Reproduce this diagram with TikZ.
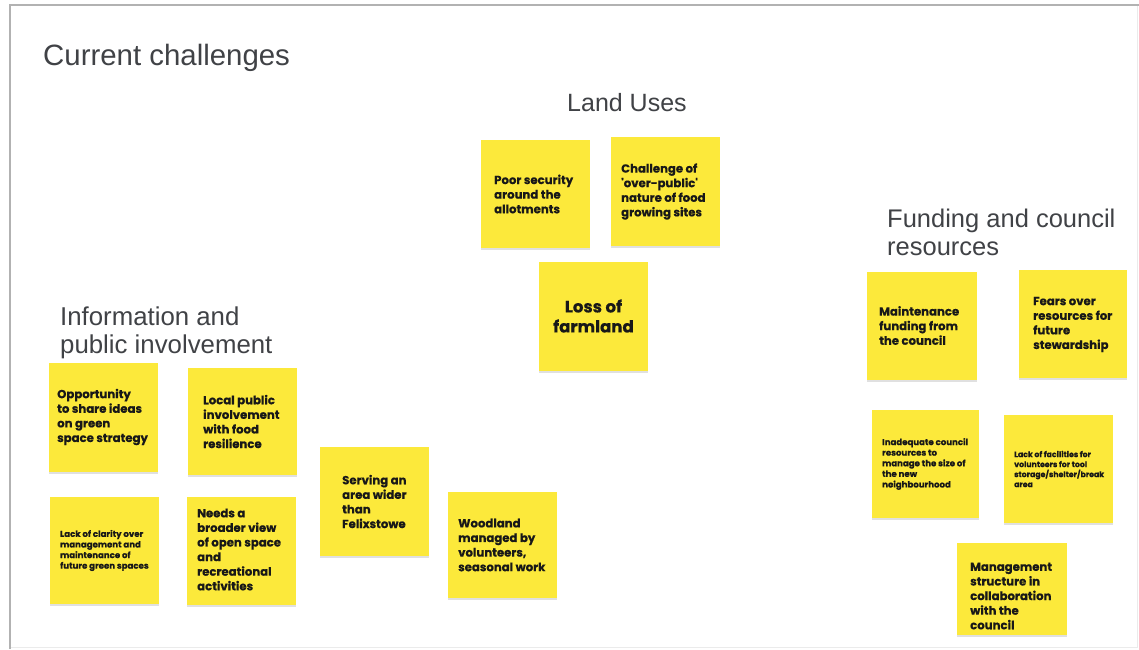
\documentclass[tikz,border=0pt]{standalone}
\usepackage{fontspec}
\setmainfont{Liberation Sans}
\newfontfamily\notefont{Poppins}[BoldFeatures={FakeBold=0.5}]
\usetikzlibrary{shadows}
\definecolor{stickyY}{RGB}{252,233,59}
\definecolor{headgray}{RGB}{64,66,70}
\definecolor{notetext}{RGB}{24,24,24}
\begin{document}
\begin{tikzpicture}[x=1pt,y=-1pt,
  sticky/.style={fill=stickyY, draw=none, inner sep=0pt, anchor=north west,
    drop shadow={shadow xshift=0pt, shadow yshift=-1.5pt, fill=black, opacity=0.12}},
  head/.style={text=headgray, inner sep=0pt, align=left},
  notetxt/.style={text=notetext, inner sep=0pt, align=left, anchor=west},
  nmid/.style={notetxt, font=\notefont\bfseries\fontsize{11.7}{14.6}\selectfont},
  nsmall/.style={notetxt, font=\notefont\bfseries\fontsize{8.6}{10.6}\selectfont},
  nbig/.style={notetxt, anchor=center, align=center, font=\notefont\bfseries\fontsize{16.6}{20}\selectfont}]
\useasboundingbox (0,0) rectangle (1139,649);
\fill[white] (0,0) rectangle (1139,649);
% slide frame
\draw[black!8, line width=0.8pt] (1137,5) -- (1137,647) -- (10,647);
\draw[black!30, line width=1.2pt] (10,649) -- (10,5) -- (1139,5);

% headings (base anchor = baseline of the last line)
\node[head, anchor=base west, font=\fontsize{29.4}{34}\selectfont] (title) at (43,65) {Current challenges};
\node[head, anchor=base west, font=\fontsize{25}{28}\selectfont] (hland) at (567,111) {Land Uses};
\node[head, anchor=base west, font=\fontsize{25.5}{28}\selectfont] (hfund) at (887,255) {Funding and council\\resources};
\node[head, anchor=base west, font=\fontsize{25.8}{28}\selectfont] (hinfo) at (60,353) {Information and\\public involvement};

% Land uses
\node[sticky, minimum width=109, minimum height=108] (s1) at (481,140) {};
\node[sticky, minimum width=109, minimum height=109] (s2) at (611,137) {};
\node[sticky, minimum width=109, minimum height=109] (s3) at (539,262) {};
\node[nmid] (t1) at (494,194) {Poor security\\around the\\allotments};
\node[nmid] (t2) at (621,191.5) {Challenge of\\'over-public'\\nature of food\\growing sites};
\node[nbig] (t3) at (593.5,316) {Loss of\\farmland};

% Information and public involvement
\node[sticky, minimum width=109, minimum height=109] (s4) at (49,363) {};
\node[sticky, minimum width=109, minimum height=107] (s5) at (188,368) {};
\node[sticky, minimum width=109, minimum height=107] (s6) at (50,497) {};
\node[sticky, minimum width=109, minimum height=108] (s7) at (187,497) {};
\node[sticky, minimum width=109, minimum height=109] (s8) at (320,447) {};
\node[sticky, minimum width=109, minimum height=106] (s9) at (448,492) {};
\node[nmid] (t4) at (57,417) {Opportunity\\to share ideas\\on green\\space strategy};
\node[nmid] (t5) at (203,421.5) {Local public\\involvement\\with food\\resilience};
\node[nsmall] (t6) at (60,550.5) {Lack of clarity over\\management and\\maintenance of\\future green spaces};
\node[nmid] (t7) at (197,549.5) {Needs a\\broader view\\of open space\\and\\recreational\\activities};
\node[nmid] (t8) at (342,501.5) {Serving an\\area wider\\than\\Felixstowe};
\node[nmid] (t9) at (458,545) {Woodland\\managed by\\volunteers,\\seasonal work};

% Funding and council resources
\node[sticky, minimum width=110, minimum height=108] (s10) at (867,272) {};
\node[sticky, minimum width=108, minimum height=108] (s11) at (1019,270) {};
\node[sticky, minimum width=107, minimum height=108] (s12) at (872,410) {};
\node[sticky, minimum width=109, minimum height=108] (s13) at (1004,415) {};
\node[sticky, minimum width=110, minimum height=92] (s14) at (957,543) {};
\node[nmid] (t10) at (879,325.5) {Maintenance\\funding from\\the council};
\node[nmid] (t11) at (1033,324.5) {Fears over\\resources for\\future\\stewardship};
\node[nsmall] (t12) at (882,464) {Inadequate council\\resources to\\manage the size of\\the new\\neighbourhood};
\node[nsmall, font=\notefont\bfseries\fontsize{7.8}{10}\selectfont] (t13) at (1014,469) {Lack of facilities for\\volunteers for tool\\storage/shelter/break\\area};
\node[nmid] (t14) at (970,596) {Management\\structure in\\collaboration\\with the\\council};
\end{tikzpicture}
\end{document}
